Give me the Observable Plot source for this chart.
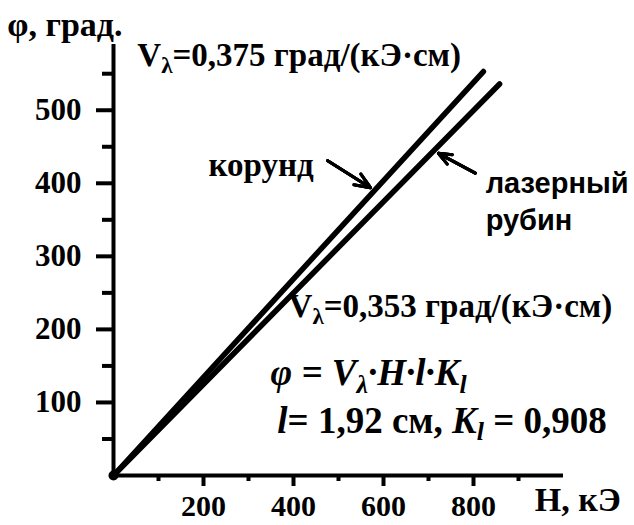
<!DOCTYPE html>
<html><head><meta charset="utf-8">
<script src="https://cdn.jsdelivr.net/npm/d3@7"></script>
<script src="https://cdn.jsdelivr.net/npm/@observablehq/plot@0.6"></script>
<style>body{margin:0;background:#fff} svg{display:block}</style>
</head><body><div id="chart"></div>
<script>
// Data
const materials = ["корунд", "лазерный рубин"];
const fieldH = [[0, 822], [0, 858]];      // H, кЭ
const rotation = [[0, 553], [0, 536]];    // φ, град.
const xMajorTicks = [200, 400, 600, 800];
const xMinorTicks = [100, 300, 500, 700, 900];
const yMajorTicks = [100, 200, 300, 400, 500];
const yMinorTicks = [50, 150, 250, 350, 450, 550];

// Annotations (data units)
const serifNotes = ["V_λ=0,375 град/(кЭ·см)", "V_λ=0,353 град/(кЭ·см)", "корунд"];
const serifH = [53, 389, 211];
const serifPhi = [575, 231.5, 425];
const formulaNotes = ["*φ = V_λ·H·l·K_l*", "*l*= 1,92 см, *K_l* = 0,908"];
const formulaH = [349, 364];
const formulaPhi = [140, 75];
const sansNotes = ["лазерный", "рубин"];
const sansH = [827, 827];
const sansPhi = [400, 349];
const axisNotes = ["φ, град.", "H, кЭ"];
const axisH = [-236, 936];
const axisPhi = [616, -34];
const arrowFrom = [[476, 431], [804, 414]];
const arrowTo = [[571, 394], [722, 441]];

const rows = materials.flatMap((m, i) => fieldH[i].map((h, j) => ({m, H: h, phi: rotation[i][j]})));
const arrows = arrowFrom.map((f, i) => ({x1: f[0], y1: f[1], x2: arrowTo[i][0], y2: arrowTo[i][1]}));
const notes = (t, h, p) => t.map((s, i) => ({s, H: h[i], phi: p[i]}));

const serif = "Liberation Serif";
const sans = "Liberation Sans";

// nested arrow heads give a filled-looking head
const arrowMarks = [16, 12, 8, 4].map(len =>
  Plot.arrow(arrows, {x1: "x1", y1: "y1", x2: "x2", y2: "y2", strokeWidth: 3, headLength: len, headAngle: 45}));

const chart = Plot.plot({
  width: 634, height: 525,
  marginLeft: 113, marginRight: 71, marginTop: 44, marginBottom: 50,
  x: {domain: [0, 1000]},
  y: {domain: [0, 590]},
  style: {fontFamily: serif, fontWeight: "bold", background: "white", color: "black", overflow: "visible"},
  marks: [
    Plot.axisX(xMinorTicks, {tickSize: 6, strokeWidth: 4, tickFormat: () => "", label: null}),
    Plot.axisX(xMajorTicks, {tickSize: 11, tickPadding: 8, strokeWidth: 4, fontSize: 30, label: null}),
    Plot.axisY(yMinorTicks, {tickSize: 11, strokeWidth: 4, tickFormat: () => "", label: null}),
    Plot.axisY(yMajorTicks, {tickSize: 17, tickPadding: 15, strokeWidth: 4, fontSize: 31, label: null}),
    Plot.ruleY([0], {x1: 0, x2: 1000, strokeWidth: 4}),
    Plot.ruleX([0], {y1: 0, y2: 590, strokeWidth: 4}),
    Plot.line(rows, {x: "H", y: "phi", z: "m", stroke: "black", strokeWidth: 5.5}),
    Plot.dot([{H: 0, phi: 0}], {x: "H", y: "phi", r: 5, fill: "black"}),
    ...arrowMarks,
    Plot.text(notes(serifNotes, serifH, serifPhi), {x: "H", y: "phi", text: "s", textAnchor: "start", lineAnchor: "middle", fontSize: 33, fontFamily: serif, fontWeight: "bold"}),
    Plot.text(notes(formulaNotes, formulaH, formulaPhi), {x: "H", y: "phi", text: "s", textAnchor: "start", lineAnchor: "middle", fontSize: 37, fontFamily: serif, fontWeight: "bold"}),
    Plot.text(notes(sansNotes, sansH, sansPhi), {x: "H", y: "phi", text: "s", textAnchor: "start", lineAnchor: "middle", fontSize: 29, fontFamily: sans, fontWeight: "bold"}),
    Plot.text(notes(axisNotes, axisH, axisPhi), {x: "H", y: "phi", text: "s", textAnchor: "start", lineAnchor: "middle", fontSize: 34, fontFamily: serif, fontWeight: "bold"})
  ]
});

// make the tick labels serif bold like the reference
d3.select(chart).selectAll('[aria-label$="tick label"]')
  .attr("font-family", serif).attr("font-weight", "bold").style("font-family", serif);

// rich text: "_x" -> subscript char, "*...*" -> italic
d3.select(chart).selectAll("text").each(function () {
  const t = this.textContent;
  if (!/[_*]/.test(t)) return;
  const parts = [];
  let italic = false, buf = "";
  const flush = () => { if (buf) parts.push({s: buf, italic, sub: false}); buf = ""; };
  for (let i = 0; i < t.length; i++) {
    const c = t[i];
    if (c === "*") { flush(); italic = !italic; }
    else if (c === "_") { flush(); parts.push({s: t[++i], italic, sub: true}); }
    else buf += c;
  }
  flush();
  const el = d3.select(this);
  el.text("");
  let prevSub = false;
  for (const p of parts) {
    const ts = el.append("tspan").text(p.s).attr("font-style", p.italic ? "italic" : "normal");
    if (p.sub) ts.attr("font-size", "0.7em").attr("dy", prevSub ? null : "0.3em");
    else if (prevSub) ts.attr("dy", "-0.21em");
    prevSub = p.sub;
  }
});

document.getElementById("chart").append(chart);
</script>
</body></html>
